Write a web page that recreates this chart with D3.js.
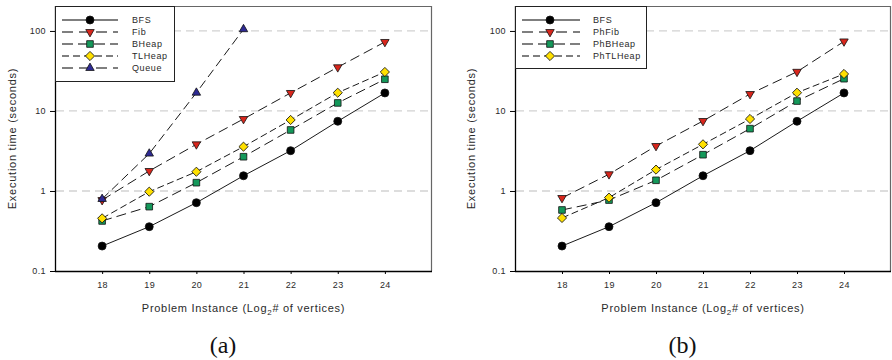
<!DOCTYPE html>
<html>
<head>
<meta charset="utf-8">
<script src="https://cdn.jsdelivr.net/npm/d3@7"></script>
<style>
  html, body { margin: 0; padding: 0; background: #fff; }
  svg { display: block; }
</style>
</head>
<body>
<svg id="chart" width="892" height="360"></svg>
<script>
// ---------- data ----------
const xValues = [18, 19, 20, 21, 22, 23, 24];
const xTickLabels = ["18", "19", "20", "21", "22", "23", "24"];
const yTickValues = [0.1, 1, 10, 100];
const yTickLabels = ["0.1", "1", "10", "100"];

// panel (a)
const bfsA    = [0.205, 0.358, 0.714, 1.55, 3.19, 7.43, 16.8];
const fibA    = [0.77, 1.78, 3.83, 7.94, 16.8, 35.2, 72.9];
const bheapA  = [0.422, 0.637, 1.27, 2.68, 5.79, 12.6, 24.9];
const tlheapA = [0.455, 0.98, 1.74, 3.58, 7.72, 16.9, 30.7];
const queueA  = [0.794, 2.93, 16.9, 105];

// panel (b)
const bfsB      = [0.205, 0.358, 0.714, 1.55, 3.19, 7.43, 16.8];
const phfibB    = [0.818, 1.62, 3.65, 7.5, 16.3, 30.9, 74.0];
const phbheapB  = [0.579, 0.77, 1.36, 2.84, 6.01, 13.3, 25.3];
const phtlheapB = [0.46, 0.826, 1.85, 3.83, 7.94, 16.9, 29.0];

const namesA = ["BFS", "Fib", "BHeap", "TLHeap", "Queue"];
const namesB = ["BFS", "PhFib", "PhBHeap", "PhTLHeap"];
const panelLabels = ["(a)", "(b)"];
const xTitle = ["Problem ", "Instance (Log", "2", "# of vertices)"];
const yTitle = "Execution time (seconds)";

// ---------- styles ----------
const styles = {
  circle:  { type: d3.symbolCircle,   size: 50, rot: 0,   fill: "#000000", dash: null,   legendDash: null },
  tridown: { type: d3.symbolTriangle, size: 31, rot: 180, fill: "#d8261c", dash: "10,5", legendDash: "11,6" },
  square:  { type: d3.symbolSquare,   size: 44, rot: 0,   fill: "#14985a", dash: "10,5", legendDash: "11,5" },
  diamond: { type: d3.symbolSquare,   size: 42, rot: 45,  fill: "#ffe000", dash: "7,3.5", legendDash: "7,4" },
  triup:   { type: d3.symbolTriangle, size: 31, rot: 0,   fill: "#2e2a94", dash: "9,4.5", legendDash: "11,6" }
};

const panels = [
  {
    left: 55, right: 432,
    series: [
      { name: namesA[0], values: bfsA, style: "circle" },
      { name: namesA[1], values: fibA, style: "tridown" },
      { name: namesA[2], values: bheapA, style: "square" },
      { name: namesA[3], values: tlheapA, style: "diamond" },
      { name: namesA[4], values: queueA, style: "triup" }
    ],
    legend: { x: 55, w: 119, h: 75, lineX1: 62, lineX2: 118, markX: 90, textX: 132 },
    label: panelLabels[0], yTitleX: 12
  },
  {
    left: 515, right: 891,
    series: [
      { name: namesB[0], values: bfsB, style: "circle" },
      { name: namesB[1], values: phfibB, style: "tridown" },
      { name: namesB[2], values: phbheapB, style: "square" },
      { name: namesB[3], values: phtlheapB, style: "diamond" }
    ],
    legend: { x: 515, w: 131, h: 62, lineX1: 522, lineX2: 580, markX: 550, textX: 593 },
    label: panelLabels[1], yTitleX: 471
  }
];

const plotTop = 6, plotBottom = 271;
const svg = d3.select("#chart");
const font = "Arial, 'Liberation Sans', Helvetica, sans-serif";
const textColor = "#2a2a2a";

panels.forEach(p => {
  const x = d3.scaleLinear().domain([17, 25]).range([p.left, p.right]);
  const y = d3.scaleLog().domain([0.1, 205]).range([plotBottom, plotTop]);
  const g = svg.append("g");

  // gridlines
  g.selectAll("line.grid").data([1, 10, 100]).enter().append("line")
    .attr("x1", p.left + 1).attr("x2", p.right)
    .attr("y1", d => y(d)).attr("y2", d => y(d))
    .attr("stroke", "#d2d2d2").attr("stroke-width", 1.3)
    .attr("stroke-dasharray", "8,5");

  // frame top/right
  g.append("path")
    .attr("d", `M${p.left},${plotTop + 0.5}H${p.right - 0.5}V${plotBottom}`)
    .attr("fill", "none").attr("stroke", "#666").attr("stroke-width", 1.2);

  // lines
  const line = d3.line().x((d, i) => x(xValues[i])).y(d => y(d));
  p.series.forEach(s => {
    const st = styles[s.style];
    g.append("path").datum(s.values)
      .attr("d", line)
      .attr("fill", "none").attr("stroke", "#1a1a1a").attr("stroke-width", 1)
      .attr("stroke-dasharray", st.dash);
  });
  // markers
  p.series.forEach(s => {
    const st = styles[s.style];
    const sym = d3.symbol().type(st.type).size(st.size);
    g.selectAll(null).data(s.values).enter().append("path")
      .attr("d", sym)
      .attr("transform", (d, i) => `translate(${x(xValues[i])},${y(d)}) rotate(${st.rot})`)
      .attr("fill", st.fill).attr("stroke", "#111").attr("stroke-width", 0.8);
  });

  // axes
  const yAxis = d3.axisLeft(y).tickValues(yTickValues)
    .tickFormat((d, i) => yTickLabels[i]).tickSize(5).tickPadding(4);
  const ya = g.append("g").attr("transform", `translate(${p.left},0)`).call(yAxis);
  ya.select(".domain").attr("stroke", "#000").attr("stroke-width", 1.3)
    .attr("d", `M0.5,${plotTop}V${plotBottom}`);

  const xAxis = d3.axisBottom(x).tickValues(xValues)
    .tickFormat((d, i) => xTickLabels[i]).tickSize(3).tickPadding(8);
  const xa = g.append("g").attr("transform", `translate(0,${plotBottom})`).call(xAxis);
  xa.select(".domain").attr("stroke", "#000").attr("stroke-width", 1.3)
    .attr("d", `M${p.left},0.5H${p.right}`);

  [ya, xa].forEach(a => {
    a.selectAll("text").attr("font-family", font).attr("font-size", 9)
      .attr("letter-spacing", 0.4).attr("fill", textColor);
    a.selectAll(".tick line").attr("stroke", "#000");
  });

  // legend
  const L = p.legend;
  g.append("rect").attr("x", L.x + 0.5).attr("y", plotTop + 0.5)
    .attr("width", L.w).attr("height", L.h)
    .attr("fill", "#fff").attr("stroke", "#222").attr("stroke-width", 1);
  p.series.forEach((s, i) => {
    const st = styles[s.style];
    const ly = 20 + i * 12;
    g.append("line").attr("x1", L.lineX1).attr("x2", L.lineX2)
      .attr("y1", ly).attr("y2", ly)
      .attr("stroke", "#555").attr("stroke-width", 1.5)
      .attr("stroke-dasharray", st.legendDash);
    g.append("path").attr("d", d3.symbol().type(st.type).size(st.size)())
      .attr("transform", `translate(${L.markX},${ly}) rotate(${st.rot})`)
      .attr("fill", st.fill).attr("stroke", "#111").attr("stroke-width", 0.8);
    g.append("text").attr("x", L.textX).attr("y", ly).attr("dy", "0.35em")
      .attr("font-family", font).attr("font-size", 9).attr("letter-spacing", 0.6)
      .attr("fill", textColor).text(s.name);
  });

  // axis titles
  const cx = (p.left + p.right) / 2;
  const xt = g.append("text").attr("x", cx).attr("y", 312)
    .attr("text-anchor", "middle").attr("font-family", font)
    .attr("font-size", 11).attr("letter-spacing", 0.7).attr("fill", textColor);
  xt.append("tspan").text(xTitle[0]);
  xt.append("tspan").text(xTitle[1]);
  xt.append("tspan").attr("font-size", 8).attr("dy", 3).text(xTitle[2]);
  xt.append("tspan").attr("dy", -3).text(xTitle[3]);

  g.append("text")
    .attr("transform", `translate(${p.yTitleX + 4},${(plotTop + plotBottom) / 2}) rotate(-90)`)
    .attr("text-anchor", "middle").attr("font-family", font)
    .attr("font-size", 11).attr("letter-spacing", 0.75).attr("fill", textColor)
    .text(yTitle);

  // panel label
  g.append("text").attr("x", cx - 20.5).attr("y", 353)
    .attr("text-anchor", "middle")
    .attr("font-family", "'Liberation Serif', 'Times New Roman', serif")
    .attr("font-size", 24).attr("fill", "#111").text(p.label);
});
</script>
</body>
</html>
